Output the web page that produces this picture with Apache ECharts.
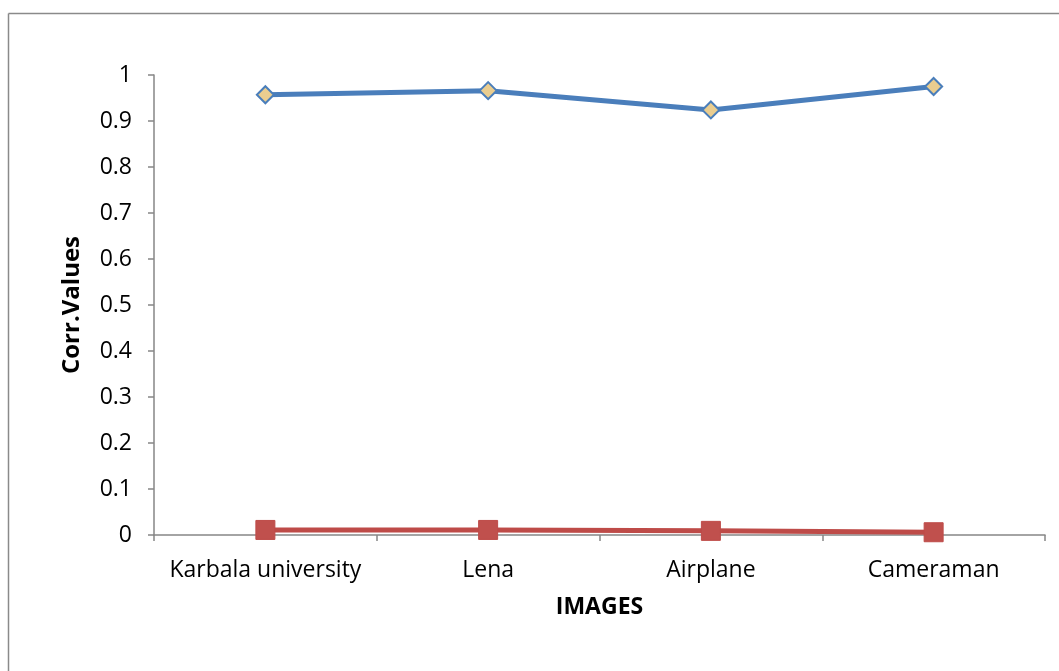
<!DOCTYPE html>
<html>
<head>
<meta charset="utf-8">
<style>
  html, body { margin: 0; padding: 0; background: #fff; }
  #chart { width: 1059px; height: 671px; }
</style>
<script src="https://cdn.jsdelivr.net/npm/echarts@6/dist/echarts.min.js"></script>
</head>
<body>
<div id="chart"></div>
<script>
// Image names along the category axis
const categories = ['Karbala university', 'Lena', 'Airplane', 'Cameraman'];
// Correlation values of the two series
const seriesA = [0.957, 0.966, 0.924, 0.975];
const seriesB = [0.011, 0.011, 0.009, 0.006];
// Value axis ticks
const yTicks = [0, 0.1, 0.2, 0.3, 0.4, 0.5, 0.6, 0.7, 0.8, 0.9, 1];

const FONT = 'Open Sans';
const axisGray = '#868686';

const chart = echarts.init(document.getElementById('chart'), null, { renderer: 'canvas' });

chart.setOption({
  backgroundColor: '#ffffff',
  animation: false,
  graphic: [
    { type: 'line', shape: { x1: 8.5, y1: 13.5, x2: 1059, y2: 13.5 }, style: { stroke: '#8a8a8a', lineWidth: 1.5 } },
    { type: 'line', shape: { x1: 8.5, y1: 13.5, x2: 8.5, y2: 671 }, style: { stroke: '#8a8a8a', lineWidth: 1.5 } }
  ],
  grid: { left: 154, right: 14, top: 75, bottom: 136 },
  xAxis: {
    type: 'category',
    data: categories,
    boundaryGap: true,
    name: 'IMAGES',
    nameLocation: 'middle',
    nameGap: 61,
    nameTextStyle: { fontFamily: FONT, fontSize: 23, fontWeight: 'bold', color: '#000' },
    axisLine: { lineStyle: { color: axisGray, width: 1.5 } },
    axisTick: { show: true, length: 6, alignWithLabel: false, lineStyle: { color: axisGray, width: 1.5 } },
    axisLabel: { fontFamily: FONT, fontSize: 23, color: '#000', margin: 24, interval: 0 },
    splitLine: { show: false }
  },
  yAxis: {
    type: 'value',
    min: yTicks[0],
    max: yTicks[yTicks.length - 1],
    interval: 0.1,
    name: 'Corr.Values',
    nameLocation: 'middle',
    nameGap: 70,
    nameTextStyle: { fontFamily: FONT, fontSize: 24, fontWeight: 'bold', color: '#000' },
    axisLine: { show: true, lineStyle: { color: axisGray, width: 1.5 } },
    axisTick: { show: true, length: 6, lineStyle: { color: axisGray, width: 1.5 } },
    axisLabel: {
      fontFamily: FONT, fontSize: 23, color: '#000', margin: 22,
      formatter: v => String(Math.round(v * 10) / 10)
    },
    splitLine: { show: false }
  },
  series: [
    {
      type: 'line',
      data: seriesA,
      symbol: 'diamond',
      symbolSize: 17,
      lineStyle: { color: '#4A7EBB', width: 5 },
      itemStyle: { color: '#EACD8F', borderColor: '#4A7EBB', borderWidth: 2 },
      z: 3
    },
    {
      type: 'line',
      data: seriesB,
      symbol: 'rect',
      symbolSize: 19,
      lineStyle: { color: '#BE4B48', width: 5 },
      itemStyle: { color: '#C0504D', borderColor: '#BE4B48', borderWidth: 1 },
      z: 3
    }
  ]
});
</script>
</body>
</html>
